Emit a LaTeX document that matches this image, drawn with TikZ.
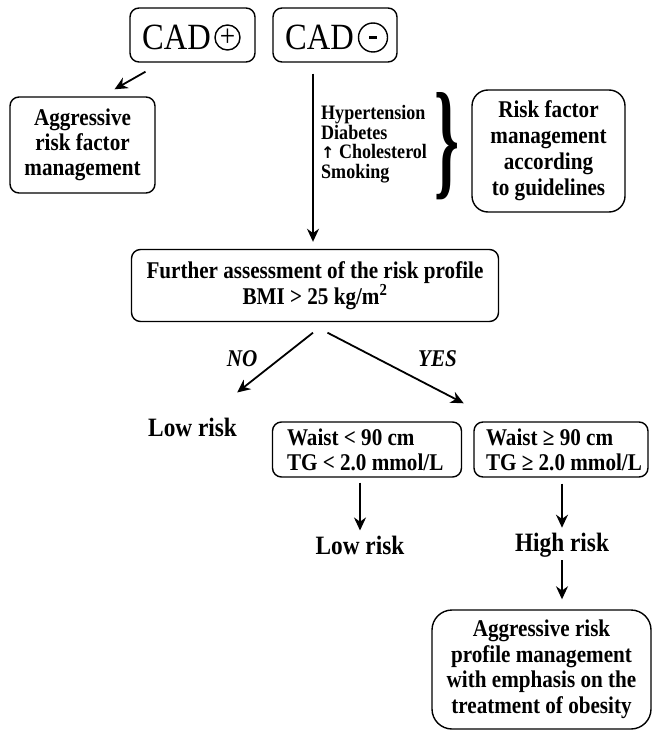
\documentclass[tikz,border=0pt]{standalone}
\usepackage{fontspec}
\setmainfont{Liberation Serif}[FakeStretch=0.88]
\newfontfamily\symfont{DejaVu Sans}
\usetikzlibrary{arrows.meta}
\begin{document}
\begin{tikzpicture}[x=1pt,y=1pt,
  box/.style={draw, line width=1.4pt, rounded corners=9pt, align=center, inner sep=0pt,
    font=\bfseries\fontsize{24}{25}\selectfont},
  cadtxt/.style={inner sep=0pt, font=\fontsize{37}{37}\selectfont},
  sign/.style={draw, circle, line width=1.4pt, inner sep=0pt},
  arr/.style={-{Stealth[length=13pt,width=12pt]}, line width=1.8pt},
  lbl/.style={inner sep=0pt, font=\bfseries\itshape\fontsize{24}{25}\selectfont},
  risk/.style={inner sep=0pt, font=\bfseries\fontsize{26.5}{28}\selectfont}]
\useasboundingbox (0,0) rectangle (653,-730);

% top boxes
\node[box, minimum width=125pt, minimum height=54pt] (cadp) at (192.5,-35) {};
\node[cadtxt, anchor=base west] (cadpt) at (142,-50) {CAD};
\node[sign, minimum size=25pt, font=\fontsize{31}{31}\selectfont] (cadpc) at (227.5,-37.5) {+};
\node[box, minimum width=124pt, minimum height=54pt] (cadm) at (335,-35) {};
\node[cadtxt, anchor=base west] (cadmt) at (285,-50) {CAD};
\node[sign, minimum size=29pt] (cadmc) at (373,-37.5) {};
\draw[line width=3pt] ([xshift=-4pt]cadmc.center) -- ([xshift=4pt]cadmc.center);

% left branch
\node[box, minimum width=145pt, minimum height=96pt] (agg) at (82.5,-145)
  {Aggressive\\risk factor\\management};
\draw[arr] ([xshift=-47pt,yshift=-9pt]cadp.south) -- ([xshift=32pt,yshift=7pt]agg.north);

% risk factor list
\node[anchor=west, align=left, inner sep=0pt, font=\bfseries\fontsize{20.5}{19.6}\selectfont] (list)
  at (321,-144) {Hypertension\\Diabetes\\{\symfont\fontsize{16}{16}\selectfont ↑} Cholesterol\\Smoking};
\node[inner sep=0pt] (brace) at (447,-146) {\resizebox{25pt}{90pt}{\normalfont\bfseries\}}};
\node[box, rounded corners=16pt, minimum width=153pt, minimum height=122pt,
  font=\bfseries\fontsize{24}{26}\selectfont] (guide) at (548.5,-151)
  {Risk factor\\management\\according\\to guidelines};

% further assessment
\node[box, minimum width=367pt, minimum height=72pt,
  font=\bfseries\fontsize{24}{26.5}\selectfont] (fur) at (315,-285.5)
  {Further assessment of the risk profile\\BMI > 25 kg/m\textsuperscript{2}};
\draw[arr] ([xshift=-22pt,yshift=-11pt]cadm.south) -- ([xshift=-2pt,yshift=7pt]fur.north);

% NO / YES
\node[risk] (lr1) at (192.6,-427.5) {Low risk};
\node[box, minimum width=189pt, minimum height=55pt, align=left] (wl)
  at (367,-449.5) {\makebox[160pt][l]{Waist < 90 cm}\\\makebox[160pt][l]{TG < 2.0 mmol/L}};
\node[box, minimum width=174pt, minimum height=55pt, align=left] (wg)
  at (561,-449.5) {\makebox[150pt][l]{Waist ≥ 90 cm}\\\makebox[150pt][l]{TG ≥ 2.0 mmol/L}};
\draw[arr] ([xshift=-2pt,yshift=-10.5pt]fur.south) -- ([yshift=25.5pt]lr1.north east);
\draw[arr] ([xshift=12.5pt,yshift=-10.5pt]fur.south) -- ([xshift=1.5pt,yshift=18pt]wl.north east);
\node[lbl] (no) at (242,-359) {NO};
\node[lbl] (yes) at (437.5,-359) {YES};

% outcomes
\node[risk] (lr2) at (360,-545) {Low risk};
\node[risk] (hr) at (562,-545) {High risk};
\draw[arr] ([xshift=-7pt,yshift=-5pt]wl.south) -- ([yshift=5pt]lr2.north);
\draw[arr] ([xshift=1pt,yshift=-6pt]wg.south) -- ([yshift=5pt]hr.north);

\node[box, rounded corners=20pt, minimum width=219pt, minimum height=119pt,
  font=\bfseries\fontsize{24}{25.5}\selectfont] (fin) at (541.5,-669.5)
  {Aggressive risk\\profile management\\with emphasis on the\\treatment of obesity};
\draw[arr] ([yshift=-3pt]hr.south) -- ([xshift=20.5pt,yshift=10pt]fin.north);
\end{tikzpicture}
\end{document}
